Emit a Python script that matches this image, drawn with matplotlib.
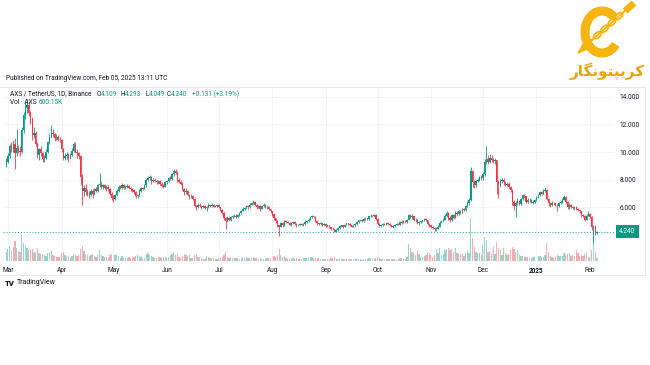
import numpy as np
import pandas as pd
import matplotlib
matplotlib.use('Agg')
import matplotlib.pyplot as plt
import matplotlib.dates as mdates
import matplotlib.patches as mpatches
import matplotlib.transforms as mtransforms
from matplotlib.colors import to_rgba

UP = '#089981'
DOWN = '#F23645'
TEXT = '#131722'
GRID = '#F2F4F8'
GOLD = '#F6B40E'
GOLD_TEXT = '#E9A30C'

# AXS/USDT daily, Binance, 2024-02-29 .. 2025-02-05
dates = pd.date_range('2024-02-29', '2025-02-05', freq='D')
first_open = 9.00
closes = [
    9.30,
    # Mar
    9.70, 10.40, 10.20, 10.60, 9.90, 10.30, 10.10, 10.00, 11.60, 12.70, 13.20, 13.40, 12.80, 12.40, 11.20, 11.40,
    10.60, 9.80, 10.20, 9.90, 9.50, 9.60, 10.00, 10.70, 11.10, 11.40, 11.30, 11.00, 11.10, 10.90, 10.85,
    # Apr
    10.20, 9.60, 9.70, 9.80, 9.60, 9.75, 10.10, 10.60, 10.00, 9.90, 9.70, 8.20, 7.20, 7.40, 7.10,
    7.00, 6.90, 7.20, 7.00, 7.30, 7.20, 7.60, 7.70, 7.50, 7.60, 7.40, 7.50, 7.30, 7.00, 6.70,
    # May
    6.60, 6.90, 7.20, 7.50, 7.40, 7.60, 7.40, 7.50, 7.55, 7.40, 7.30, 7.25, 7.10, 6.80, 6.90, 7.20,
    7.40, 7.35, 7.60, 8.00, 8.10, 8.20, 7.90, 8.00, 7.90, 7.80, 7.90, 7.70, 7.55, 7.50, 7.80,
    # Jun
    7.90, 8.10, 8.05, 8.40, 8.60, 8.50, 7.95, 7.85, 7.70, 7.35, 7.10, 7.20, 6.90, 6.80, 6.85,
    6.60, 6.10, 6.00, 6.20, 6.10, 6.00, 6.10, 5.95, 6.00, 6.20, 6.10, 6.20, 6.05, 6.10, 6.15,
    # Jul
    6.00, 5.80, 5.60, 5.20, 5.00, 5.25, 5.10, 5.30, 5.35, 5.40, 5.30, 5.45, 5.60, 5.75, 5.90, 5.95,
    6.10, 6.00, 6.20, 6.30, 6.40, 6.20, 6.00, 6.10, 5.90, 6.10, 6.20, 6.00, 6.05, 5.85, 5.70,
    # Aug
    5.50, 5.20, 5.00, 4.70, 4.60, 4.85, 4.70, 5.00, 4.95, 4.90, 4.75, 4.90, 4.95, 4.80, 4.70, 4.75,
    4.80, 4.75, 4.80, 4.95, 5.00, 5.10, 5.30, 5.35, 5.30, 5.00, 4.85, 4.80, 4.85, 4.75, 4.80,
    # Sep
    4.65, 4.70, 4.55, 4.45, 4.40, 4.25, 4.35, 4.50, 4.65, 4.70, 4.60, 4.75, 4.85, 4.80, 4.70,
    4.60, 4.70, 4.80, 4.95, 5.05, 5.10, 5.00, 5.15, 5.20, 5.15, 5.35, 5.40, 5.35, 5.45, 5.15,
    # Oct
    4.80, 4.65, 4.70, 4.80, 4.75, 4.85, 4.80, 4.70, 4.60, 4.65, 4.75, 4.80, 4.75, 4.95, 4.90, 5.00,
    4.95, 5.10, 5.45, 5.30, 5.35, 5.05, 5.10, 4.85, 4.95, 5.00, 5.05, 5.15, 5.05, 4.80, 4.70,
    # Nov
    4.60, 4.50, 4.40, 4.45, 4.60, 4.90, 5.00, 5.10, 5.40, 5.60, 5.20, 5.10, 5.45, 5.25, 5.60,
    5.50, 5.70, 5.65, 5.85, 5.80, 6.10, 6.30, 6.50, 8.60, 7.80, 7.60, 7.90, 8.00, 8.20, 8.10,
    # Dec
    8.40, 9.30, 9.50, 9.30, 9.60, 9.45, 9.35, 9.40, 7.80, 7.60, 7.90, 8.00, 7.80, 7.65, 7.70, 7.45,
    7.25, 6.40, 6.10, 6.30, 6.45, 6.25, 6.60, 6.90, 6.80, 6.40, 6.50, 6.55, 6.35, 6.40, 6.50,
    # Jan
    6.70, 6.90, 7.10, 7.00, 7.20, 7.25, 6.60, 6.30, 6.20, 6.35, 6.30, 6.20, 6.10, 6.30, 6.40, 6.55,
    6.75, 6.40, 6.00, 6.15, 6.05, 5.95, 6.00, 5.90, 5.80, 5.70, 5.45, 5.40, 5.10, 5.40, 5.55,
    # Feb
    5.30, 4.55, 4.60, 4.109, 4.240,
]
highs = [
    9.55,
    9.90, 10.60, 10.70, 10.90, 11.00, 11.70, 10.50, 10.40, 11.80, 12.90, 13.70, 13.80, 13.60, 13.00, 12.50, 11.80,
    11.50, 10.70, 10.30, 10.40, 10.00, 9.80, 10.20, 10.80, 11.30, 11.95, 11.70, 11.40, 11.30, 11.20, 11.10,
    10.95, 10.30, 9.90, 10.00, 9.90, 9.90, 10.30, 10.75, 10.70, 10.20, 10.00, 9.80, 8.40, 7.60, 7.70,
    7.30, 7.20, 7.30, 7.30, 7.40, 7.50, 7.70, 8.50, 7.90, 7.70, 7.70, 7.60, 7.60, 7.40, 7.10,
    6.90, 7.00, 7.30, 7.60, 7.60, 7.75, 7.70, 7.60, 7.70, 7.65, 7.50, 7.40, 7.35, 7.20, 7.00, 7.30,
    7.50, 7.50, 7.70, 8.10, 8.25, 8.35, 8.30, 8.10, 8.10, 8.00, 8.00, 7.95, 7.80, 7.70, 7.90,
    8.00, 8.20, 8.25, 8.50, 8.80, 8.75, 8.60, 8.10, 7.95, 7.80, 7.40, 7.40, 7.25, 7.00, 6.95,
    6.90, 6.70, 6.20, 6.30, 6.35, 6.20, 6.15, 6.15, 6.10, 6.30, 6.25, 6.30, 6.25, 6.15, 6.25,
    6.25, 6.05, 5.85, 5.65, 5.30, 5.35, 5.30, 5.40, 5.45, 5.50, 5.50, 5.50, 5.65, 5.80, 6.00, 6.05,
    6.20, 6.15, 6.30, 6.40, 6.50, 6.45, 6.25, 6.20, 6.15, 6.20, 6.30, 6.25, 6.15, 6.10, 5.90,
    5.75, 5.55, 5.25, 5.05, 4.75, 4.95, 4.95, 5.05, 5.10, 5.00, 4.95, 4.95, 5.00, 5.00, 4.85, 4.80,
    4.85, 4.85, 4.85, 5.05, 5.10, 5.20, 5.40, 5.45, 5.40, 5.35, 5.05, 4.90, 4.95, 4.90, 4.85,
    4.85, 4.75, 4.75, 4.60, 4.55, 4.45, 4.40, 4.55, 4.70, 4.75, 4.75, 4.80, 4.90, 4.90, 4.85,
    4.75, 4.80, 4.85, 5.00, 5.10, 5.15, 5.15, 5.20, 5.30, 5.25, 5.40, 5.50, 5.45, 5.55, 5.50,
    5.20, 4.85, 4.75, 4.85, 4.85, 4.90, 4.95, 4.85, 4.75, 4.70, 4.80, 4.85, 4.85, 5.00, 5.05, 5.05,
    5.05, 5.15, 5.55, 5.50, 5.50, 5.40, 5.20, 5.15, 5.00, 5.05, 5.10, 5.20, 5.20, 5.10, 4.85,
    4.75, 4.65, 4.55, 4.55, 4.70, 5.00, 5.10, 5.20, 5.50, 5.75, 5.65, 5.35, 5.55, 5.50, 5.70,
    5.75, 5.80, 5.80, 5.95, 5.95, 6.20, 6.45, 6.70, 8.95, 8.70, 7.95, 8.00, 8.15, 8.30, 8.35,
    8.55, 9.50, 10.40, 9.80, 9.85, 9.80, 9.60, 9.55, 9.45, 8.00, 8.05, 8.15, 8.10, 7.90, 7.85, 7.80,
    7.55, 7.30, 6.55, 6.45, 6.70, 6.55, 6.70, 7.00, 7.00, 6.85, 6.65, 6.65, 6.60, 6.50, 6.60,
    6.80, 7.00, 7.20, 7.15, 7.30, 7.45, 7.30, 6.65, 6.40, 6.45, 6.40, 6.35, 6.25, 6.40, 6.50, 6.65,
    6.90, 6.80, 6.45, 6.35, 6.25, 6.10, 6.10, 6.10, 5.95, 5.85, 5.75, 5.55, 5.45, 5.50, 5.70,
    5.60, 5.35, 4.75, 4.70, 4.293,
]
lows = [
    8.90,
    9.20, 9.60, 10.00, 10.00, 8.80, 9.70, 9.90, 9.70, 9.90, 11.40, 12.40, 12.80, 12.60, 12.00, 10.90, 11.00,
    10.40, 9.60, 9.40, 9.70, 9.30, 9.30, 9.50, 9.90, 10.60, 11.00, 11.10, 10.80, 10.90, 10.80, 10.70,
    10.00, 9.40, 9.40, 9.50, 9.30, 9.50, 9.70, 10.00, 9.90, 9.60, 9.50, 7.60, 6.20, 6.80, 6.90,
    6.80, 6.70, 6.80, 6.70, 6.90, 7.10, 7.10, 7.50, 7.30, 7.30, 7.30, 7.20, 7.20, 6.90, 6.50,
    6.40, 6.50, 6.80, 7.10, 7.30, 7.30, 7.30, 7.30, 7.40, 7.30, 7.20, 7.10, 6.95, 6.70, 6.65, 6.85,
    7.10, 7.25, 7.30, 7.50, 7.90, 8.00, 7.70, 7.80, 7.80, 7.70, 7.70, 7.60, 7.45, 7.40, 7.45,
    7.70, 7.85, 7.95, 8.00, 8.30, 8.40, 7.80, 7.75, 7.60, 7.25, 6.90, 7.00, 6.80, 6.60, 6.70,
    6.50, 6.00, 5.80, 5.95, 6.00, 5.90, 5.95, 5.90, 5.70, 5.95, 6.00, 6.05, 6.00, 6.00, 6.05,
    5.95, 5.75, 5.50, 5.10, 4.40, 4.95, 5.00, 5.00, 5.25, 5.30, 5.25, 5.25, 5.40, 5.55, 5.70, 5.80,
    5.90, 5.90, 5.95, 6.15, 6.25, 6.10, 5.90, 5.95, 5.70, 5.85, 6.05, 5.95, 5.90, 5.80, 5.60,
    5.40, 5.10, 4.90, 4.60, 3.90, 4.55, 4.60, 4.65, 4.85, 4.85, 4.70, 4.65, 4.80, 4.75, 4.60, 4.65,
    4.70, 4.70, 4.65, 4.75, 4.90, 4.95, 5.05, 5.25, 5.20, 4.95, 4.75, 4.70, 4.75, 4.65, 4.70,
    4.60, 4.55, 4.50, 4.35, 4.35, 4.20, 4.20, 4.30, 4.45, 4.55, 4.50, 4.55, 4.70, 4.75, 4.65,
    4.55, 4.55, 4.60, 4.75, 4.90, 5.00, 4.95, 4.95, 5.10, 5.10, 5.10, 5.30, 5.30, 5.30, 5.05,
    4.70, 4.60, 4.55, 4.65, 4.70, 4.70, 4.75, 4.65, 4.55, 4.50, 4.60, 4.70, 4.70, 4.70, 4.80, 4.85,
    4.90, 4.90, 5.05, 5.20, 5.15, 5.00, 4.95, 4.80, 4.75, 4.90, 4.95, 5.00, 5.00, 4.75, 4.60,
    4.50, 4.45, 4.30, 4.30, 4.40, 4.55, 4.85, 4.95, 5.05, 5.30, 5.10, 4.95, 5.00, 5.15, 5.20,
    5.40, 5.45, 5.55, 5.60, 5.70, 5.75, 6.00, 6.20, 6.45, 7.50, 7.40, 7.50, 7.80, 7.90, 8.00,
    8.00, 8.30, 9.10, 9.10, 9.20, 9.30, 9.20, 9.15, 7.00, 6.70, 7.50, 7.75, 7.65, 7.55, 7.55, 7.35,
    7.10, 6.20, 5.80, 5.30, 6.20, 6.15, 6.20, 6.55, 6.70, 6.30, 6.30, 6.40, 6.30, 6.25, 6.35,
    6.45, 6.65, 6.85, 6.90, 6.95, 7.10, 6.50, 6.10, 6.05, 6.10, 6.20, 6.10, 5.70, 6.05, 6.25, 6.35,
    6.50, 6.30, 5.85, 5.90, 5.95, 5.85, 5.80, 5.80, 5.70, 5.60, 5.30, 5.30, 5.00, 5.05, 5.35,
    5.20, 4.35, 3.40, 4.00, 4.049,
]
# volume, thousands of AXS
volumes = [
    1800,
    2400, 3000, 2000, 2800, 4000, 2600, 2000, 1800, 5400, 3600, 3000, 2600, 2200, 2400, 2400, 1800,
    1600, 2600, 1600, 1400, 1400, 1200, 1000, 1600, 1800, 2000, 1200, 1000, 800, 800, 800,
    1600, 1800, 1200, 1000, 1000, 800, 1000, 1400, 1200, 1000, 1200, 2400, 3000, 2000, 1400,
    1200, 1000, 1200, 1400, 1000, 800, 1200, 2200, 1200, 1000, 800, 800, 600, 1200, 1400,
    2000, 1200, 1200, 1000, 600, 1000, 800, 600, 600, 800, 600, 600, 800, 1000, 1200, 1000,
    800, 600, 600, 1400, 1600, 1200, 1000, 800, 600, 600, 800, 800, 600, 800, 800,
    600, 800, 1200, 1400, 1800, 1200, 1400, 800, 600, 1000, 1400, 1200, 1000, 1200, 600,
    600, 1200, 1400, 800, 800, 600, 400, 400, 1000, 800, 600, 600, 600, 400, 400,
    600, 600, 800, 1200, 1800, 800, 600, 800, 600, 600, 600, 600, 400, 600, 800, 600,
    800, 600, 600, 600, 800, 600, 600, 400, 600, 400, 400, 400, 600, 600, 600,
    800, 1000, 800, 1200, 2400, 1200, 800, 1000, 600, 400, 400, 600, 600, 400, 600, 400,
    400, 400, 600, 600, 600, 600, 800, 800, 600, 600, 600, 600, 400, 400, 400,
    400, 400, 400, 600, 600, 800, 400, 400, 600, 400, 400, 400, 400, 200, 300,
    400, 400, 400, 600, 400, 400, 200, 400, 400, 400, 600, 600, 400, 400, 600,
    800, 600, 400, 400, 200, 300, 400, 400, 400, 400, 400, 200, 300, 600, 600, 400,
    400, 800, 3400, 2600, 1800, 1600, 1200, 2000, 1400, 800, 800, 1000, 1200, 1600, 1600,
    1200, 800, 1200, 2400, 1600, 2600, 1200, 1400, 2200, 2400, 2600, 2200, 2400, 1800, 2600,
    1600, 1600, 1400, 1400, 1000, 1600, 2200, 1600, 8600, 4600, 2800, 1800, 1600, 1600, 1200,
    3200, 4800, 4200, 1800, 2000, 1600, 2800, 1400, 3800, 2600, 2200, 1200, 2600, 1600, 1200, 1400,
    2200, 2800, 2400, 1800, 2200, 1200, 1000, 1000, 800, 800, 800, 600, 600, 800, 800,
    800, 1000, 1000, 800, 800, 1200, 3600, 1800, 1000, 800, 600, 800, 1200, 1000, 1000, 1000,
    1600, 1200, 1400, 1600, 1000, 1200, 1000, 2200, 1600, 1000, 1200, 1000, 1400, 1800, 800,
    800, 2200, 6200, 1800, 600.15,
]
price_ticks = [6, 8, 10, 12, 14]
month_starts = pd.date_range('2024-03-01', '2025-02-01', freq='MS')
month_labels = ['Mar', 'Apr', 'May', 'Jun', 'Jul', 'Aug', 'Sep', 'Oct', 'Nov', 'Dec', '2025', 'Feb']

W, H = 650, 365
fig = plt.figure(figsize=(W / 100, H / 100), dpi=100)
fig.patch.set_facecolor('white')

# pane in pixels: x 3..614, y 88..261
rect = [3 / W, 1 - 261 / H, 611 / W, 173 / H]
vol_ax = fig.add_axes(rect, zorder=1)
ax = fig.add_axes(rect, zorder=2)
ax.patch.set_alpha(0)

x = mdates.date2num(dates)
c = np.array(closes)
o = np.array([first_open] + closes[:-1])
hi = np.array(highs)
lo = np.array(lows)
v = np.array(volumes)
col = np.where(c >= o, UP, DOWN)

x0 = mdates.date2num(pd.Timestamp('2024-03-01'))
xlim = (x0 - 2.9, x0 + 350.9)

# volume underneath
vol_ax.bar(x, v, width=0.72, color=[to_rgba(k, 0.42) for k in col], linewidth=0)
vol_ax.set_xlim(xlim)
vol_ax.set_ylim(0, v.max() * 4.02)
vol_ax.axis('off')

# grid
for t in month_starts:
    ax.axvline(mdates.date2num(t), color=GRID, lw=0.7, zorder=0)
for p in price_ticks:
    ax.axhline(p, color=GRID, lw=0.7, zorder=0)

# candles
ax.vlines(x, lo, hi, colors=col, lw=0.6, zorder=3)
ax.bar(x, np.maximum(np.abs(c - o), 0.03), bottom=np.minimum(o, c), width=0.78,
       color=col, linewidth=0, zorder=4)

# last price line and label
ax.axhline(c[-1], color=UP, lw=0.8, ls=(0, (1, 1.6)), alpha=0.8, zorder=2)
trans = mtransforms.blended_transform_factory(ax.transAxes, ax.transData)
ax.text(1.0085, c[-1], f'{c[-1]:.3f}', transform=trans, color='white', fontsize=4.7,
        va='center', ha='left', family=['Roboto', 'DejaVu Sans'],
        bbox=dict(boxstyle='square,pad=0.45', fc=UP, ec='none'))

ax.set_xlim(xlim)
ax.set_ylim(2.12, 14.63)
for s in ax.spines.values():
    s.set_visible(False)
ax.yaxis.tick_right()
ax.set_yticks(price_ticks)
ax.set_yticklabels([f'{p:.3f}' for p in price_ticks])
ax.set_xticks(mdates.date2num(month_starts))
ax.set_xticklabels(month_labels)
ax.tick_params(axis='y', length=0, pad=4, labelsize=4.7, labelcolor=TEXT)
ax.tick_params(axis='x', length=0, pad=4, labelsize=4.7, labelcolor=TEXT)
for lab in ax.get_xticklabels() + ax.get_yticklabels():
    lab.set_family(['Roboto', 'DejaVu Sans'])
ax.get_xticklabels()[10].set_fontweight('bold')

# overlay in pixel coordinates for header, frame and logos
deco = fig.add_axes([0, 0, 1, 1], zorder=10)
deco.set_xlim(0, W)
deco.set_ylim(H, 0)
deco.axis('off')
deco.patch.set_alpha(0)

frame = '#E0E3EB'
deco.plot([0, 645], [87, 87], color=frame, lw=0.6)
deco.plot([0, 645], [275, 275], color=frame, lw=0.6)
deco.plot([645, 645], [87, 275], color=frame, lw=0.6)

fam = ['Roboto', 'DejaVu Sans']
fs = 4.7
deco.text(6, 78, 'Published on TradingView.com, Feb 05, 2025 13:11 UTC', color=TEXT,
          fontsize=fs, va='center', family=fam)

legend = [(10, 'AXS / TetherUS, 1D, Binance', TEXT), (96.5, 'O', TEXT), (100.5, '4.109', UP),
          (120.5, 'H', TEXT), (124.5, '4.293', UP), (145.5, 'L', TEXT), (148.5, '4.049', UP),
          (166.5, 'C', TEXT), (170.5, '4.240', UP), (192, '+0.131 (+3.19%)', UP)]
for lx, s, cc in legend:
    deco.text(lx, 94, s, color=cc, fontsize=fs, va='center', family=fam)
deco.text(10, 102.7, 'Vol \u00b7 AXS', color=TEXT, fontsize=fs, va='center', family=fam)
deco.text(39, 102.7, '600.15K', color=UP, fontsize=fs, va='center', family=fam)

# TradingView mark bottom-left
deco.text(5, 283, 'TV', color=TEXT, fontsize=5.5, fontweight='heavy', va='center', family=fam)
deco.text(17, 283, 'TradingView', color=TEXT, fontsize=5.0, va='center', family=fam)

# site logo top-right: chained "C" and Persian name
deco.add_patch(mpatches.Arc((602, 32), 34, 42, theta1=42, theta2=318, lw=6.5, color=GOLD))
p0 = np.array([628.0, 8.0])
p1 = np.array([592.0, 40.0])
deco.plot([p0[0], p1[0]], [p0[1], p1[1]], color=GOLD, lw=1.2)
ang = np.degrees(np.arctan2(p1[1] - p0[1], p1[0] - p0[0]))
for t in [0.25, 0.45, 0.65, 0.85]:
    cx, cy = p0 + t * (p1 - p0)
    deco.add_patch(mpatches.Ellipse((cx, cy), 9, 5, angle=ang, fc='white', ec=GOLD, lw=1.3))
deco.plot([625, 634], [11, 3], color=GOLD, lw=5, solid_capstyle='butt')
deco.add_patch(mpatches.Polygon([(578, 53), (584.4, 42), (589.6, 48)], closed=True, color=GOLD))
deco.plot([592, 586], [40, 46], color=GOLD, lw=1.5)
deco.text(607, 71, '\uFEAD\uFE8E\uFB95\uFEE7\uFEEE\uFE98\uFB59\uFBFE\uFEAE\uFB90', color=GOLD_TEXT,
          fontsize=11, fontweight='bold', ha='center', va='center', family=['DejaVu Sans'])

fig.savefig('out.png', dpi=100, facecolor='white')
